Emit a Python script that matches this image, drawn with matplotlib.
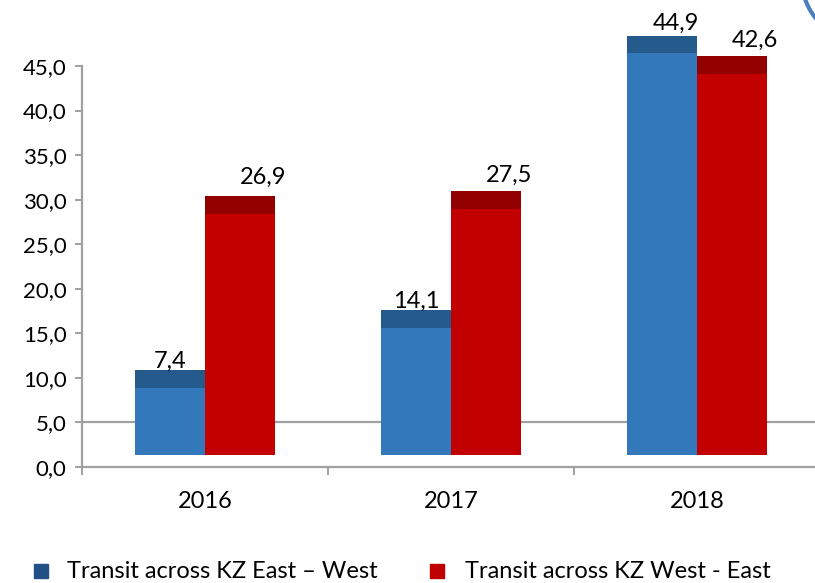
import numpy as np
import matplotlib
matplotlib.use("Agg")
import matplotlib.pyplot as plt
from matplotlib.lines import Line2D
from matplotlib.patches import Ellipse

plt.rcParams['font.family'] = ['Lato', 'DejaVu Sans']

years = ['2016', '2017', '2018']
east_west = [7.4, 14.1, 44.9]
west_east = [26.9, 27.5, 42.6]
series_names = ['Transit across KZ East \u2013 West', 'Transit across KZ West - East']
yticks = [0, 5, 10, 15, 20, 25, 30, 35, 40, 45]

def fmt(v):
    return ('%.1f' % v).replace('.', ',')

# pseudo-3d look: front face starts above zero, dark band is the top face
base = 1.35
lift = 1.5
depth = 2.0
bw = 0.285

fig = plt.figure(figsize=(8.15, 5.83), dpi=100)
ax = fig.add_axes([82/815, 116/583, 733/815, 467/583])
ax.set_xlim(-0.5, 2.48)
ax.set_ylim(0, 52.4)

x = np.arange(len(years))
gray = '#a0a0a0'
ax.axhline(5.0, color=gray, lw=1.6, zorder=1)

series = [
    (east_west, -bw, '#3378ba', '#245b8c'),
    (west_east, bw, '#c30000', '#920000'),
]
# label offsets in pixels (x shift, gap above the bar)
label_dx = [[0, 0, 14], [23, 23, 23]]
label_dy = [[2, 2, 6], [12, 9, 9]]
for s, (vals, w, c_front, c_top) in enumerate(series):
    vals = np.array(vals)
    ax.bar(x, vals + lift - base, width=w, bottom=base, align='edge',
           color=c_front, linewidth=0, zorder=2)
    ax.bar(x, depth, width=w, bottom=vals + lift, align='edge',
           color=c_top, linewidth=0, zorder=2)
    for i, v in enumerate(vals):
        ax.annotate(fmt(v), (x[i] + w / 2, v + lift + depth),
                    xytext=(label_dx[s][i] * 0.72, label_dy[s][i] * 0.72), textcoords='offset points',
                    ha='center', va='baseline', fontsize=17, color='black', zorder=3)

for side in ['top', 'right']:
    ax.spines[side].set_visible(False)
ax.spines['left'].set_color(gray)
ax.spines['left'].set_linewidth(1.6)
ax.spines['left'].set_bounds(0, 45)
ax.spines['bottom'].set_color(gray)
ax.spines['bottom'].set_linewidth(1.6)

ax.set_yticks(yticks)
ax.set_yticklabels([fmt(t) for t in yticks], fontsize=16)
ax.tick_params(axis='y', length=5, width=1.4, color=gray, pad=6)

ax.set_xticks(x)
ax.set_xticklabels(years, fontsize=17)
ax.set_xticks([-0.5, 0.5, 1.5], minor=True)
ax.tick_params(axis='x', which='major', length=0, pad=17)
ax.tick_params(axis='x', which='minor', length=6, width=1.4, color=gray)

# legend row at the bottom
legend_colors = ['#234f87', '#c00000']
marker_x = [41, 437]
text_x = [67, 465]
ly = 1 - 571/583
for name, c, mx, tx in zip(series_names, legend_colors, marker_x, text_x):
    fig.add_artist(Line2D([mx/815], [ly], ls='none', marker='s', markersize=10,
                          markerfacecolor=c, markeredgecolor=c, transform=fig.transFigure))
    fig.text(tx/815, ly, name, fontsize=17, ha='left', va='center')

# bit of slide decoration in the corner
fig.patches.append(Ellipse((862/815, 1 + 20/583), 120/815, 120/583, transform=fig.transFigure,
                           facecolor='none', edgecolor='#4a7fc0', lw=3, figure=fig))

fig.savefig('out.png', dpi=100)
